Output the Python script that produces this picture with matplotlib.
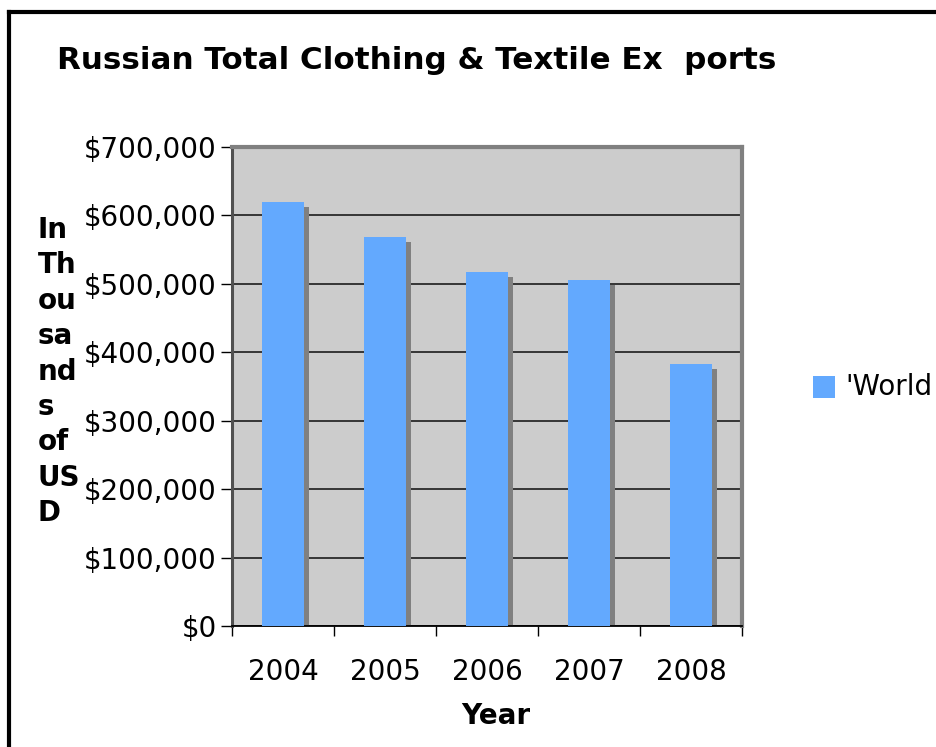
import matplotlib
matplotlib.use("Agg")
import matplotlib.pyplot as plt
import matplotlib.transforms as mtransforms
from matplotlib.lines import Line2D
from matplotlib.patches import Rectangle
from matplotlib.ticker import FuncFormatter, MultipleLocator

years = ["2004", "2005", "2006", "2007", "2008"]
exports = [619000, 568000, 517000, 505000, 383000]
series_name = "'World"
title = "Russian Total Clothing & Textile Ex  ports"
ylabel_lines = ["In", "Th", "ou", "sa", "nd", "s", "of", "US", "D"]
xlabel = "Year"

W, H = 936, 747
fig = plt.figure(figsize=(W / 100, H / 100), dpi=100)
fig.patch.set_facecolor("white")

def fx(px):
    return px / W

def fy(py):
    return 1 - py / H

# plot area in pixel coordinates
left, right, top, bottom = 232, 742, 147, 626
ax = fig.add_axes([fx(left), fy(bottom), fx(right - left), (bottom - top) / H])
ax.set_facecolor("#cccccc")

x = list(range(len(years)))
bar_w = 0.41

# drop shadow behind each bar
shadow_tr = mtransforms.offset_copy(ax.transData, fig=fig, x=5, y=-5, units="dots")
ax.bar(x, exports, width=bar_w, color="#808080", transform=shadow_tr, zorder=2)
ax.bar(x, exports, width=bar_w, color="#63a9fe", zorder=3, label=series_name)

ax.set_xlim(-0.5, len(years) - 0.5)
ax.set_ylim(0, 700000)
ax.yaxis.set_major_locator(MultipleLocator(100000))
ax.yaxis.set_major_formatter(FuncFormatter(lambda v, p: f"${v:,.0f}"))
ax.grid(axis="y", color="#2a2a2a", linewidth=1.3, zorder=1)
ax.set_axisbelow(True)

ax.set_xticks(x)
ax.set_xticklabels(years)
ax.set_xticks([i - 0.5 for i in range(len(years) + 1)], minor=True)
ax.tick_params(axis="x", which="major", length=0, pad=23, labelsize=20)
ax.tick_params(axis="x", which="minor", length=7, width=1, color="black", direction="out")
ax.tick_params(axis="y", which="major", length=8, width=1, color="black",
               direction="out", pad=3, labelsize=20)

for side in ("top", "right"):
    ax.spines[side].set_color("#808080")
    ax.spines[side].set_linewidth(3)
ax.spines["left"].set_color("#505050")
ax.spines["left"].set_linewidth(2.2)
ax.spines["bottom"].set_color("black")
ax.spines["bottom"].set_linewidth(1.3)

# title
fig.text(fx(57), fy(69), title, fontsize=22.3, fontweight="bold",
         ha="left", va="baseline")

# x axis title
fig.text(fx(496), fy(716), xlabel, fontsize=20, fontweight="bold",
         ha="center", va="center")

# wrapped y axis title
for i, word in enumerate(ylabel_lines):
    fig.text(fx(38), fy(230 + 35.4 * i), word, fontsize=20, fontweight="bold",
             ha="left", va="center")

# legend entry
fig.patches.append(Rectangle((fx(813), fy(398)), fx(22), 22 / H,
                             transform=fig.transFigure, facecolor="#63a9fe",
                             edgecolor="none"))
fig.text(fx(845), fy(387), series_name, fontsize=20, ha="left", va="center")

# outer chart frame
fig.lines.append(Line2D([fx(9), fx(9)], [0, fy(12)], transform=fig.transFigure,
                        color="black", linewidth=3))
fig.lines.append(Line2D([fx(9), 1], [fy(12), fy(12)], transform=fig.transFigure,
                        color="black", linewidth=3))

fig.savefig("out.png", dpi=100)
